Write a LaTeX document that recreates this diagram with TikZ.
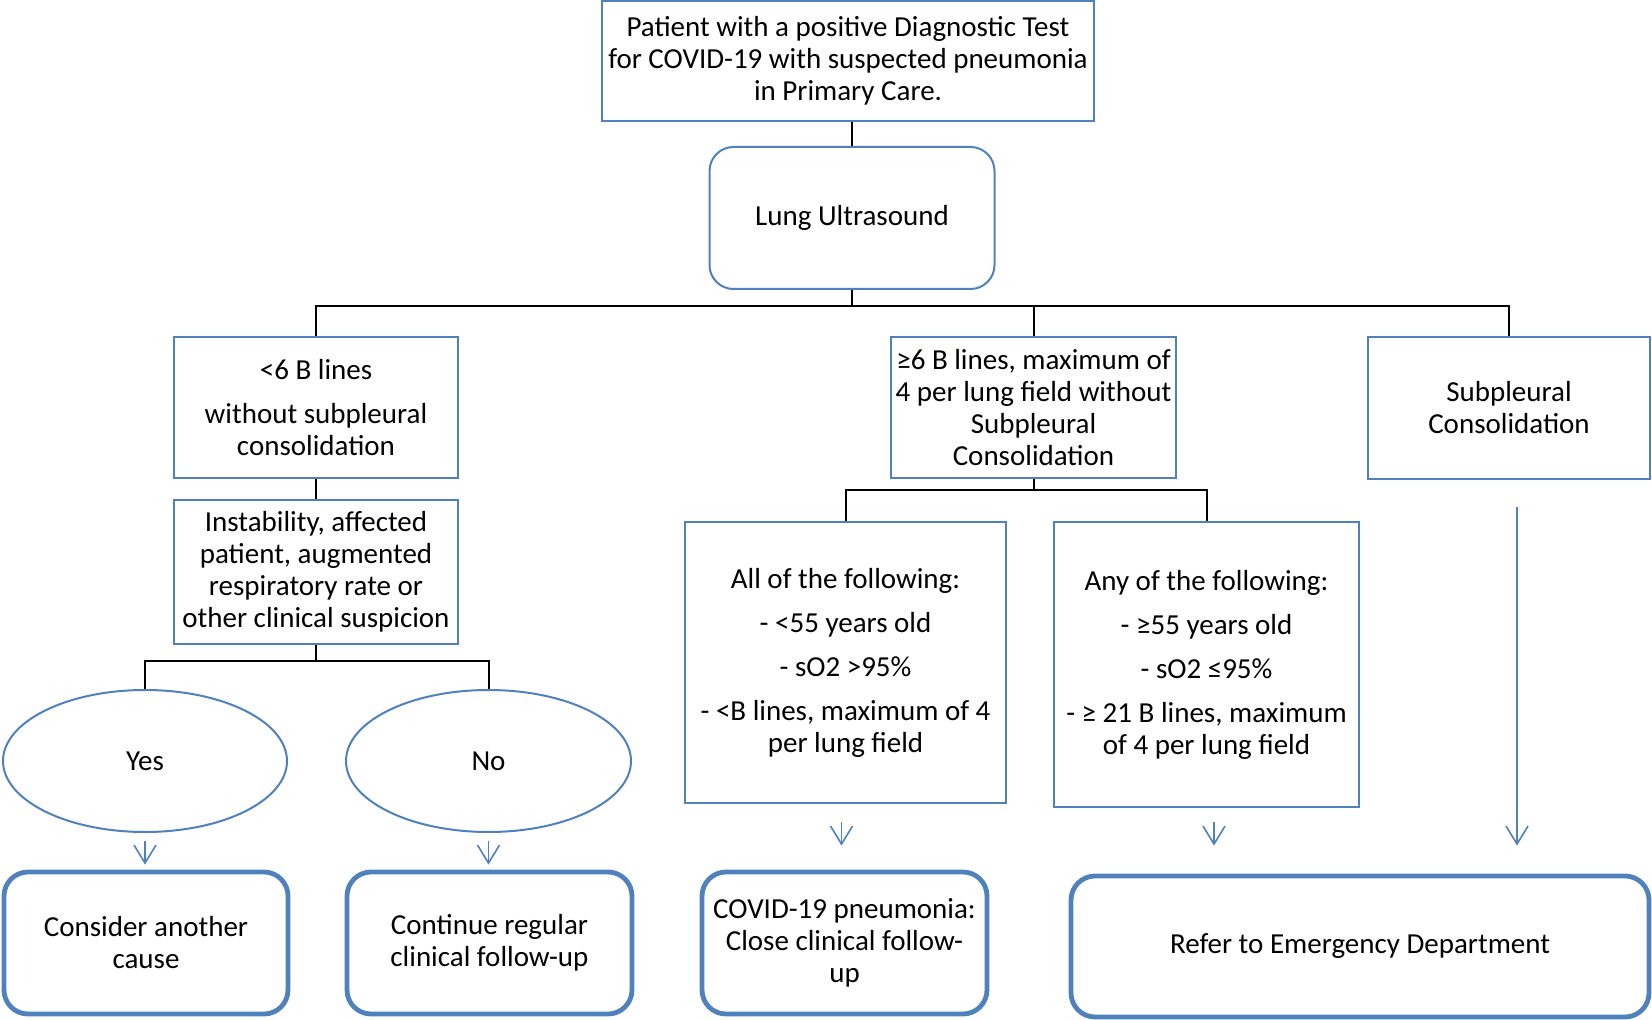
\documentclass[tikz,border=0pt]{standalone}
\usepackage{fontspec}
\setmainfont{Carlito}
\usetikzlibrary{positioning,shapes.geometric,arrows.meta}
\definecolor{boxblue}{HTML}{4F81BD}

\begin{document}
\begin{tikzpicture}[x=0.5pt, y=-0.5pt,
  every node/.style={font=\fontsize{14.5}{16}\selectfont, align=center, inner sep=0pt},
  stepbox/.style={draw=boxblue, line width=1pt, rectangle},
  softbox/.style={draw=boxblue, line width=1pt, rectangle, rounded corners=12pt},
  endbox/.style={draw=boxblue, line width=2.4pt, rectangle, rounded corners=12pt},
  answer/.style={draw=boxblue, line width=1pt, ellipse},
  link/.style={black, line width=1pt},
  flow/.style={boxblue, line width=0.8pt, -{Straight Barb[length=9pt, width=11pt]}}]
\useasboundingbox (0,0) rectangle (1652,1020);

\node[stepbox, minimum width=246pt, minimum height=60pt] (patient) at (848,61) {Patient with a positive Diagnostic Test\\for COVID-19 with suspected pneumonia\\in Primary Care.};
\node[softbox, minimum width=142.5pt, minimum height=71pt] (lus) at (852,218) {Lung Ultrasound};

\node[stepbox, minimum width=142pt, minimum height=70.5pt] (few) at (316,408) {<6 B lines\\[6pt]without subpleural\\consolidation};
\node[stepbox, minimum width=142pt, minimum height=71.5pt] (unstable) at (316,572) {Instability, affected\\patient, augmented\\respiratory rate or\\other clinical suspicion};
\node[stepbox, minimum width=142.5pt, minimum height=70.5pt] (many) at (1033.5,408) {≥6 B lines, maximum of\\4 per lung field without\\Subpleural\\Consolidation};
\node[stepbox, minimum width=141pt, minimum height=71pt] (subpl) at (1509,408) {Subpleural\\Consolidation};

\node[answer, minimum width=142pt, minimum height=71pt] (yes) at (145,761) {Yes};
\node[answer, minimum width=142.5pt, minimum height=71pt] (no) at (488.5,761) {No};
\node[stepbox, minimum width=160.5pt, minimum height=140.5pt] (allof) at (845.5,662.5) {All of the following:\\[6pt]- <55 years old\\[6pt]- sO2 >95\%\\[6pt]- <B lines, maximum of 4\\per lung field};
\node[stepbox, minimum width=152.5pt, minimum height=142.5pt] (anyof) at (1206.5,664.5) {Any of the following:\\[6pt]- ≥55 years old\\[6pt]- sO2 ≤95\%\\[6pt]- ≥ 21 B lines, maximum\\of 4 per lung field};

\node[endbox, minimum width=142pt, minimum height=71pt] (other) at (146,943) {Consider another\\cause};
\node[endbox, minimum width=142.5pt, minimum height=71pt] (regular) at (489.5,943) {Continue regular\\clinical follow-up};
\node[endbox, minimum width=142.5pt, minimum height=71pt] (close) at (844.5,943) {COVID-19 pneumonia:\\Close clinical follow-\\up};
\node[endbox, minimum width=289pt, minimum height=70.5pt] (refer) at (1360,946.5) {Refer to Emergency Department};

\coordinate (lussplit) at (852,306.5);
\coordinate (qsplit) at (316,661);
\coordinate (manysplit) at (1033.5,490);

\draw[link] (patient.south -| lus.north) -- (lus.north);
\draw[link] (lus) -- (lussplit) -| (few);
\draw[link] (lussplit) -| (many);
\draw[link] (lussplit) -| (subpl);
\draw[link] (few) -- (unstable);
\draw[link] (unstable) -- (qsplit) -| (yes);
\draw[link] (qsplit) -| (no);
\draw[link] (many) -- (manysplit) -| (allof);
\draw[link] (manysplit) -| (anyof);

\draw[flow, shorten <=4pt, shorten >=2.5pt] (yes.south) -- (yes.south |- other.north);
\draw[flow, shorten <=4pt, shorten >=2.5pt] (no.south) -- (no.south |- regular.north);
\draw[flow, shorten <=9pt, shorten >=12pt] ([xshift=-2pt]allof.south) -- ([xshift=-2pt]allof.south |- close.north);
\draw[flow, shorten <=7pt, shorten >=14pt] ([xshift=3.75pt]anyof.south) -- ([xshift=3.75pt]anyof.south |- refer.north);
\draw[flow, shorten <=13.5pt, shorten >=14pt] ([xshift=4pt]subpl.south) -- ([xshift=4pt]subpl.south |- refer.north);
\end{tikzpicture}
\end{document}
